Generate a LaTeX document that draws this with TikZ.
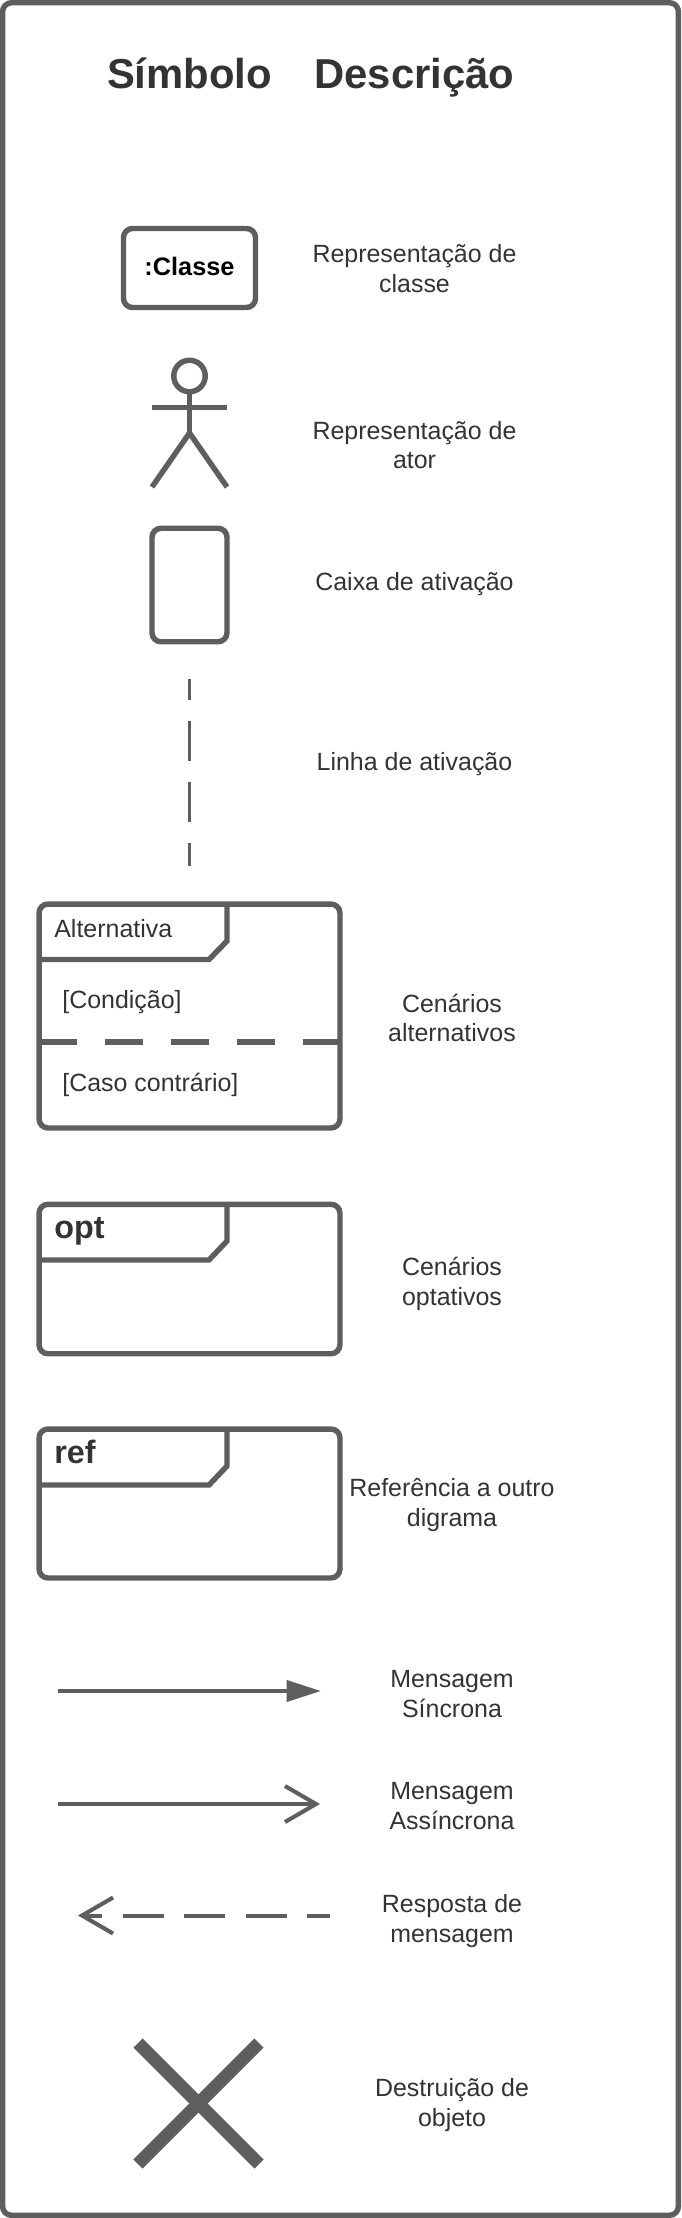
\documentclass[tikz,border=0pt]{standalone}
\usepackage{fontspec}
\setmainfont{Liberation Sans}
\usetikzlibrary{arrows.meta, positioning}
\definecolor{symbolgray}{RGB}{94,94,94}
\definecolor{textgray}{RGB}{51,51,51}

\begin{document}
\begin{tikzpicture}[
    x=0.02cm, y=-0.02cm,
    shapeline/.style={draw=symbolgray, line width=3.1pt, outer sep=0pt, inner sep=0pt},
    roundbox/.style={shapeline, fill=white, rounded corners=0.18cm},
    tabline/.style={symbolgray, line width=3.1pt, line join=miter},
    msgline/.style={symbolgray, line width=2.3pt},
    headtext/.style={inner sep=0pt, anchor=base, text=textgray, font=\fontsize{23.8}{28}\selectfont\bfseries},
    desctext/.style={inner sep=0pt, align=center, text=textgray, font=\fontsize{14.2}{16.9}\selectfont},
    tagtext/.style={inner sep=0pt, anchor=west, text=textgray, font=\fontsize{18.4}{22}\selectfont\bfseries},
    condtext/.style={inner sep=0pt, anchor=west, text=textgray, font=\fontsize{14.2}{16.9}\selectfont}
]
    \useasboundingbox (0,0) rectangle (681,2218);

    % Outer frame
    \node[roundbox, minimum width=13.52cm, minimum height=44.26cm] (outerframe) at (340.5,1109) {};

    % Titles
    \node[headtext] (symboltitle) at (189.5,88) {Símbolo};
    \node[headtext] (desctitle) at (414.5,88) {Descrição};

    % Class
    \node[roundbox, minimum width=2.64cm, minimum height=1.58cm,
          font=\fontsize{14.4}{17}\selectfont\bfseries] (classbox) at (189.5,268) {\raisebox{1.6pt}{:Classe}};
    \node[desctext] (classdesc) at (414.5,268.5) {Representação de\\classe};

    % Actor
    \node[shapeline, circle, minimum size=0.63cm] (actorhead) at (189.5,376) {};
    \coordinate (actorhip) at (189.5,433);
    \coordinate (armleft) at (152,407.5);
    \coordinate (armright) at (227,407.5);
    \coordinate (footleft) at (152,487);
    \coordinate (footright) at (227,487);
    \draw[tabline] (actorhead.south) -- (actorhip);
    \draw[tabline] (armleft) -- (armright);
    \draw[tabline] (footleft) -- (actorhip) -- (footright);
    \node[desctext] (actordesc) at (414.5,445) {Representação de\\ator};

    % Activation box
    \node[roundbox, minimum width=1.5cm, minimum height=2.27cm] (activationbox) at (189.5,585) {};
    \node[desctext] (activationdesc) at (414.5,584.5) {Caixa de ativação};

    % Activation line
    \coordinate (lifetop) at (189.5,679);
    \coordinate (lifebottom) at (189.5,866);
    \draw[symbolgray, line width=1.7pt, dash pattern=on 0.8cm off 0.42cm, dash phase=0.38cm] (lifetop) -- (lifebottom);
    \node[desctext] (lifedesc) at (414.5,764) {Linha de ativação};

    % Alternative scenarios
    \node[roundbox, minimum width=6.02cm, minimum height=4.48cm] (altframe) at (189.5,1016) {};
    \draw[tabline] (227,904) -- (227,941) -- (209,959.5) -- (39,959.5);
    \node[condtext] (alttag) at (54,929) {Alternativa};
    \node[condtext] (altcond) at (62,1002.5) {[Condição]};
    \coordinate (altleft) at (39,1042);
    \coordinate (altright) at (340,1042);
    \draw[symbolgray, line width=3.1pt, dash pattern=on 0.76cm off 0.56cm] (altleft) -- (altright);
    \node[condtext] (altelse) at (62,1085) {[Caso contrário]};
    \node[desctext] (altdesc) at (452,1018) {Cenários\\alternativos};

    % Optional scenarios
    \node[roundbox, minimum width=6.02cm, minimum height=2.99cm] (optframe) at (189.5,1279) {};
    \draw[tabline] (227,1204) -- (227,1241) -- (209,1260) -- (39,1260);
    \node[tagtext] (opttag) at (54,1231) {opt};
    \node[desctext] (optdesc) at (452,1284) {Cenários\\optativos};

    % Reference
    \node[roundbox, minimum width=6.02cm, minimum height=2.98cm] (refframe) at (189.5,1503.5) {};
    \draw[tabline] (227,1429) -- (227,1466) -- (209,1485) -- (39,1485);
    \node[tagtext] (reftag) at (54,1452) {ref};
    \node[desctext] (refdesc) at (452,1505) {Referência a outro\\digrama};

    % Synchronous message
    \coordinate (syncstart) at (58,1691);
    \coordinate (syncend) at (321,1691);
    \draw[msgline, -{Triangle[length=0.69cm, width=0.42cm]}] (syncstart) -- (syncend);
    \node[desctext] (syncdesc) at (452,1694) {Mensagem\\Síncrona};

    % Asynchronous message
    \coordinate (asyncstart) at (58,1804);
    \coordinate (asyncend) at (320,1804);
    \draw[msgline, -{Straight Barb[length=0.62cm, width=0.72cm]}] (asyncstart) -- (asyncend);
    \node[desctext] (asyncdesc) at (452,1806) {Mensagem\\Assíncrona};

    % Reply
    \coordinate (replystart) at (330,1915.5);
    \coordinate (replyend) at (78,1915.5);
    \draw[msgline, dash pattern=on 0.82cm off 0.41cm, dash phase=0.36cm,
          -{Straight Barb[length=0.62cm, width=0.72cm]}] (replystart) -- (replyend);
    \node[desctext] (replydesc) at (452,1921) {Resposta de\\mensagem};

    % Destruction
    \coordinate (crossa) at (138,2043);
    \coordinate (crossb) at (259,2164);
    \coordinate (crossc) at (259,2043);
    \coordinate (crossd) at (138,2164);
    \draw[symbolgray, line width=7.4pt] (crossa) -- (crossb);
    \draw[symbolgray, line width=7.4pt] (crossc) -- (crossd);
    \node[desctext] (destroydesc) at (452,2105) {Destruição de\\objeto};
\end{tikzpicture}
\end{document}
